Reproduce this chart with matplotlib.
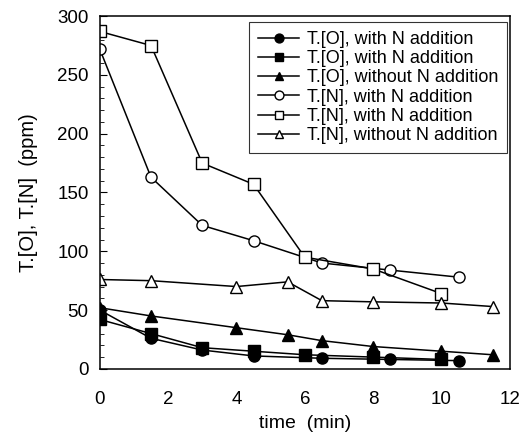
import numpy as np
import matplotlib
matplotlib.use('Agg')
import matplotlib.pyplot as plt
from matplotlib.ticker import MultipleLocator

plt.rcParams['font.family'] = ['Liberation Sans', 'DejaVu Sans']

# T.[O] series (filled markers)
t_o_circ = [0, 1.5, 3, 4.5, 6.5, 8.5, 10.5]
o_circ = [50, 26, 16, 11, 9, 8, 7]
t_o_sq = [0, 1.5, 3, 4.5, 6, 8, 10]
o_sq = [42, 30, 18, 15, 12, 10, 8]
t_o_tri = [0, 1.5, 4, 5.5, 6.5, 8, 10, 11.5]
o_tri = [52, 45, 35, 29, 24, 19, 15, 12]

# T.[N] series (open markers)
t_n_circ = [0, 1.5, 3, 4.5, 6.5, 8.5, 10.5]
n_circ = [272, 163, 122, 109, 90, 84, 78]
t_n_sq = [0, 1.5, 3, 4.5, 6, 8, 10]
n_sq = [287, 275, 175, 157, 95, 85, 64]
t_n_tri = [0, 1.5, 4, 5.5, 6.5, 8, 10, 11.5]
n_tri = [76, 75, 70, 74, 58, 57, 56, 53]

labels = ['T.[O], with N addition', 'T.[O], with N addition',
          'T.[O], without N addition', 'T.[N], with N addition',
          'T.[N], with N addition', 'T.[N], without N addition']

fig = plt.figure(figsize=(5.25, 4.36), dpi=100)
ax = fig.add_axes([0.19, 0.154, 0.781, 0.809])

kw = dict(color='black', lw=1.1, ms=8)
ax.plot(t_o_circ, o_circ, marker='o', mfc='black', label=labels[0], **kw)
ax.plot(t_o_sq, o_sq, marker='s', mfc='black', label=labels[1], **kw)
ax.plot(t_o_tri, o_tri, marker='^', mfc='black', label=labels[2], **kw)
ax.plot(t_n_circ, n_circ, marker='o', mfc='white', label=labels[3], **kw)
ax.plot(t_n_sq, n_sq, marker='s', mfc='white', label=labels[4], **kw)
ax.plot(t_n_tri, n_tri, marker='^', mfc='white', label=labels[5], **kw)

ax.set_xlim(0, 12)
ax.set_ylim(0, 300)
ax.xaxis.set_major_locator(MultipleLocator(2))
ax.yaxis.set_major_locator(MultipleLocator(50))
ax.yaxis.set_minor_locator(MultipleLocator(10))
ax.tick_params(axis='y', which='major', direction='in', length=5, labelsize=13.5, pad=8)
ax.tick_params(axis='y', which='minor', direction='in', length=3)
ax.tick_params(axis='x', which='major', direction='in', length=0, labelsize=13.5, pad=16)
for s in ax.spines.values():
    s.set_linewidth(1.1)

ax.set_xlabel('time  (min)', fontsize=14, labelpad=5)
ax.set_ylabel('T.[O], T.[N]  (ppm)', fontsize=14.5, labelpad=14)

leg = ax.legend(loc='upper right', fontsize=13, frameon=True, fancybox=False,
                edgecolor='black', handlelength=2.3, handletextpad=0.4,
                labelspacing=0.12, borderpad=0.5, markerscale=0.8,
                bbox_to_anchor=(0.993, 0.983), borderaxespad=0)
leg.get_frame().set_linewidth(0.8)

fig.savefig('out.png', dpi=100)
